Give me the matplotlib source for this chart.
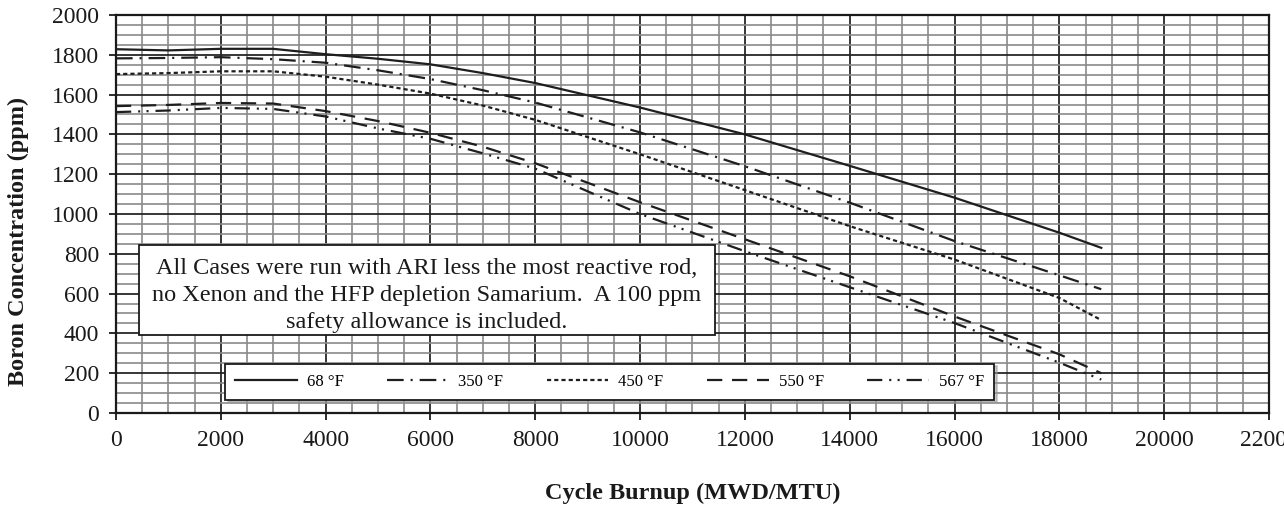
import numpy as np
import matplotlib
matplotlib.use("Agg")
import matplotlib.pyplot as plt
from matplotlib.patches import Rectangle

plt.rcParams['font.family'] = ['Liberation Serif', 'DejaVu Serif']
plt.rcParams['lines.scale_dashes'] = False

# cycle burnup (MWD/MTU) and boron concentration (ppm) per temperature case
burnup = [0, 1000, 2000, 3000, 4000, 5000, 6000, 7000, 8000, 10000,
          12000, 14000, 16000, 18000, 18800]
b68 = [1828, 1822, 1830, 1830, 1803, 1780, 1752, 1708, 1658, 1535,
       1400, 1242, 1082, 906, 830]
b350 = [1782, 1784, 1788, 1778, 1760, 1722, 1678, 1622, 1560, 1410,
        1240, 1057, 864, 692, 622]
b450 = [1703, 1708, 1717, 1717, 1690, 1650, 1605, 1545, 1473, 1300,
        1120, 939, 771, 578, 467]
b550 = [1542, 1548, 1558, 1555, 1517, 1467, 1408, 1338, 1255, 1059,
        873, 687, 485, 295, 200]
b567 = [1512, 1520, 1533, 1528, 1490, 1430, 1378, 1305, 1228, 1000,
        813, 632, 452, 253, 168]

labels = ['68 °F', '350 °F', '450 °F', '550 °F', '567 °F']
xticks = np.arange(0, 22001, 2000)
yticks = np.arange(0, 2001, 200)

note = ("All Cases were run with ARI less the most reactive rod,\n"
        "no Xenon and the HFP depletion Samarium.  A 100 ppm\n"
        "safety allowance is included.")

fig = plt.figure(figsize=(12.84, 5.08), dpi=100)
ax = fig.add_axes([0.0903, 0.187, 0.898, 0.7835])

styles = ['-', (0, (12, 5, 1.5, 5)), (0, (3, 2.2)), (0, (11, 7)),
          (0, (11, 5, 1.5, 4.5, 1.5, 5))]
series = [b68, b350, b450, b550, b567]
for vals, ls, lab in zip(series, styles, labels):
    ax.plot(burnup, vals, color='#1e1e1e', lw=1.6, linestyle=ls, label=lab,
            zorder=3)

ax.set_xlim(0, 22000)
ax.set_ylim(0, 2000)
ax.set_xticks(xticks)
ax.set_yticks(yticks)
ax.set_xticks(np.arange(0, 22001, 500), minor=True)
ax.set_yticks(np.arange(0, 2001, 50), minor=True)
ax.set_axisbelow(True)
ax.grid(which='major', color='#262626', lw=1.3)
ax.grid(which='minor', color='#8a8a8a', lw=1.2)
ax.tick_params(which='major', direction='out', length=5, width=1.3,
               labelsize=17, pad=7, colors='#1a1a1a')
ax.tick_params(which='minor', length=0)
for s in ax.spines.values():
    s.set_color('#1a1a1a')
    s.set_linewidth(1.6)

ax.set_xlabel('Cycle Burnup (MWD/MTU)', fontsize=17.5, fontweight='bold',
              color='#1a1a1a')
ax.set_ylabel('Boron Concentration (ppm)', fontsize=17.5, fontweight='bold',
              color='#1a1a1a')
ax.xaxis.set_label_coords(0.5, -0.175)
ax.yaxis.set_label_coords(-0.075, 0.43)

ax.add_patch(Rectangle((0.0199, 0.196), 0.4996, 0.226, transform=ax.transAxes,
                       facecolor='white', edgecolor='#1a1a1a', lw=1.3,
                       zorder=5))
ax.text(0.2697, 0.295, note, transform=ax.transAxes, ha='center',
        va='center', fontsize=17.5, linespacing=1.4, color='#1a1a1a',
        zorder=6)

leg = ax.legend(loc='center', bbox_to_anchor=(0.428, 0.079), ncol=5,
                fontsize=12, frameon=True, fancybox=False,
                handlelength=3.7, handletextpad=0.6, columnspacing=2.6,
                borderpad=0.6, shadow={'color': '0.6'})
leg.get_frame().set_edgecolor('#1a1a1a')
leg.get_frame().set_linewidth(1.3)
leg.set_zorder(7)

fig.savefig('out.png', dpi=100)
